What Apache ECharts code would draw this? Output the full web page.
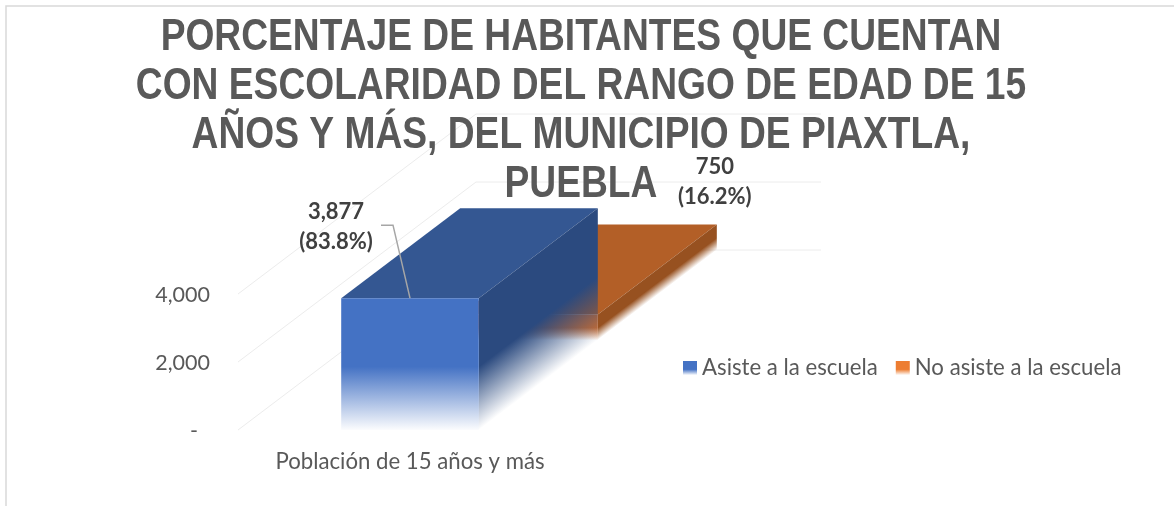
<!DOCTYPE html>
<html>
<head>
<meta charset="utf-8">
<style>html,body{margin:0;padding:0;background:#fff}#c{width:1174px;height:506px}</style>
<script src="https://cdn.jsdelivr.net/npm/echarts@6/dist/echarts.min.js"></script>
</head>
<body>
<div id="c"></div>
<script>
const titleLines = ['PORCENTAJE DE HABITANTES QUE CUENTAN','CON ESCOLARIDAD DEL RANGO DE EDAD DE 15','AÑOS Y MÁS, DEL MUNICIPIO DE PIAXTLA,','PUEBLA'];
const categories = ['Población de 15 años y más'];
const seriesNames = ['Asiste a la escuela','No asiste a la escuela'];
const asiste = [3877];
const noAsiste = [750];
const asistePct = ['83.8%'];
const noAsistePct = ['16.2%'];
const yTicks = [0,2000,4000];

const DX = 238, DY = -180;
const BAR_FRAC = 0.4;
const FADE = 0.48;

function fmt(v){ return v.toString().replace(/\B(?=(\d{3})+(?!\d))/g, ','); }
function fadeStops(rgb, solid){
  return [
    {offset:0,color:`rgba(${rgb},1)`},
    {offset:solid,color:`rgba(${rgb},1)`},
    {offset:1,color:`rgba(${rgb},0.02)`}
  ];
}
function legendFill(rgb){
  return {type:'linear',x:0,y:0,x2:0,y2:1,colorStops:fadeStops(rgb,0.6)};
}

function box(api, d0, d1, colors){
  const cat = api.value(0), v = api.value(1);
  const top = api.coord([cat, v]), base = api.coord([cat, 0]);
  const w = api.size([1,0])[0] * BAR_FRAC;
  const xl = base[0] - w/2, xr = base[0] + w/2;
  const h = base[1] - top[1];
  const p = (x,y,d)=>[x + DX*d, y + DY*d];
  const yb = base[1], yt = top[1];
  const fadeH = h * FADE;
  const len = Math.hypot(DX,DY), nx = -DY/len, ny = DX/len;
  const fb = p(xr,yb,d0);
  const gx = fb[0]-nx*fadeH*ny, gy = fb[1]-ny*fadeH*ny;
  const front = {type:'polygon',shape:{points:[p(xl,yt,d0),p(xr,yt,d0),p(xr,yb,d0),p(xl,yb,d0)]},
    style:{fill:{type:'linear',x:0,y:p(xl,yt,d0)[1],x2:0,y2:p(xl,yb,d0)[1],global:true,colorStops:fadeStops(colors.front,1-FADE)}}};
  const side = {type:'polygon',shape:{points:[p(xr,yt,d0),p(xr,yt,d1),p(xr,yb,d1),p(xr,yb,d0)]},
    style:{fill:{type:'linear',x:gx,y:gy,x2:fb[0],y2:fb[1],global:true,colorStops:[
      {offset:0,color:`rgba(${colors.side},1)`},{offset:1,color:`rgba(${colors.side},0)`}]}}};
  const topF = {type:'polygon',shape:{points:[p(xl,yt,d0),p(xr,yt,d0),p(xr,yt,d1),p(xl,yt,d1)]},
    style:{fill:`rgb(${colors.top})`}};
  return {front,side,topF,p,xl,xr,yt,yb,w};
}

const labelStyle = {fontFamily:'Lato',fontWeight:'bold',fontSize:22,lineHeight:30,fill:'#404040',align:'center',verticalAlign:'middle'};

function renderAsiste(params, api){
  const b = box(api, 0, 0.5, {front:'68,114,196',side:'43,74,127',top:'52,87,146'});
  const ax = (b.xl+b.xr)/2, ay = b.yt;
  const leader = {type:'polyline',shape:{points:[[ax,ay],[ax-17,ay-73],[ax-29,ay-73]]},
    style:{stroke:'#a6a6a6',lineWidth:1.5,fill:null}};
  const text = {type:'text',x:ax-74,y:ay-71,style:Object.assign({text:fmt(api.value(1))+'\n('+asistePct[params.dataIndex]+')'},labelStyle)};
  return {type:'group',children:[b.topF,b.side,b.front,leader,text]};
}
function renderNoAsiste(params, api){
  const b = box(api, 0.5, 1, {front:'214,112,44',side:'151,81,32',top:'179,95,39'});
  const pt = b.p(b.xr,b.yt,1);
  const text = {type:'text',x:pt[0]-2,y:pt[1]-43,style:Object.assign({text:fmt(api.value(1))+'\n('+noAsistePct[params.dataIndex]+')'},labelStyle)};
  return {type:'group',children:[b.topF,b.side,b.front,text]};
}
function renderWalls(params, api){
  const v = api.value(1);
  const p0 = api.coord([0,v]);
  const hw = api.size([1,0])[0]/2;
  const x0 = p0[0]-hw, y0 = p0[1];
  return {type:'polyline',shape:{points:[[x0,y0],[x0+DX,y0+DY],[x0+DX+345,y0+DY]]},
    style:{stroke:'#ececec',lineWidth:1,fill:null}};
}

const chart = echarts.init(document.getElementById('c'),null,{renderer:'canvas'});
chart.setOption({
  animation:false,
  backgroundColor:'#fff',
  grid:{left:238,width:344,top:294,height:136},
  legend:{
    left:678,top:352,itemWidth:14,itemHeight:14,itemGap:18,
    data:[
      {name:seriesNames[0],icon:'rect',itemStyle:{color:legendFill('68,114,196')}},
      {name:seriesNames[1],icon:'rect',itemStyle:{color:legendFill('237,125,49')}}
    ],
    textStyle:{fontFamily:'Lato',fontSize:22.2,color:'#595959'}
  },
  xAxis:{type:'category',data:categories,
    axisLine:{show:false},axisTick:{show:false},splitLine:{show:false},
    axisLabel:{fontFamily:'Lato',fontSize:22.2,color:'#595959',margin:21}},
  yAxis:{type:'value',min:yTicks[0],max:yTicks[2],interval:yTicks[1]-yTicks[0],
    axisLine:{show:false},axisTick:{show:false},splitLine:{show:false},
    axisLabel:{margin:28,padding:[2,0,0,0],fontFamily:'Lato',fontSize:21.5,color:'#595959',
      formatter:v=>v===0?'{d|-}':fmt(v),rich:{d:{padding:[0,12,0,0],fontFamily:'Lato',fontSize:21.5,color:'#595959'}}}},
  series:[
    {type:'custom',name:'walls',silent:true,z:1,renderItem:renderWalls,encode:{x:0,y:1},data:yTicks.map(t=>[0,t])},
    {type:'custom',name:seriesNames[1],z:2,renderItem:renderNoAsiste,encode:{x:0,y:1},data:noAsiste.map((v,i)=>[i,v])},
    {type:'custom',name:seriesNames[0],z:3,renderItem:renderAsiste,encode:{x:0,y:1},data:asiste.map((v,i)=>[i,v])}
  ],
  graphic:[
    {type:'polyline',shape:{points:[[6,506],[6,6],[1174,6]]},style:{stroke:'#d9d9d9',lineWidth:1.5,fill:null},silent:true},
    {type:'text',x:581,y:13,scaleX:0.845,z:100,silent:true,
      style:{text:titleLines.join('\n'),fontFamily:'Liberation Sans',fontWeight:'bold',fontSize:44,lineHeight:49,fill:'#595959',align:'center',verticalAlign:'top'}}
  ]
});
</script>
</body>
</html>
